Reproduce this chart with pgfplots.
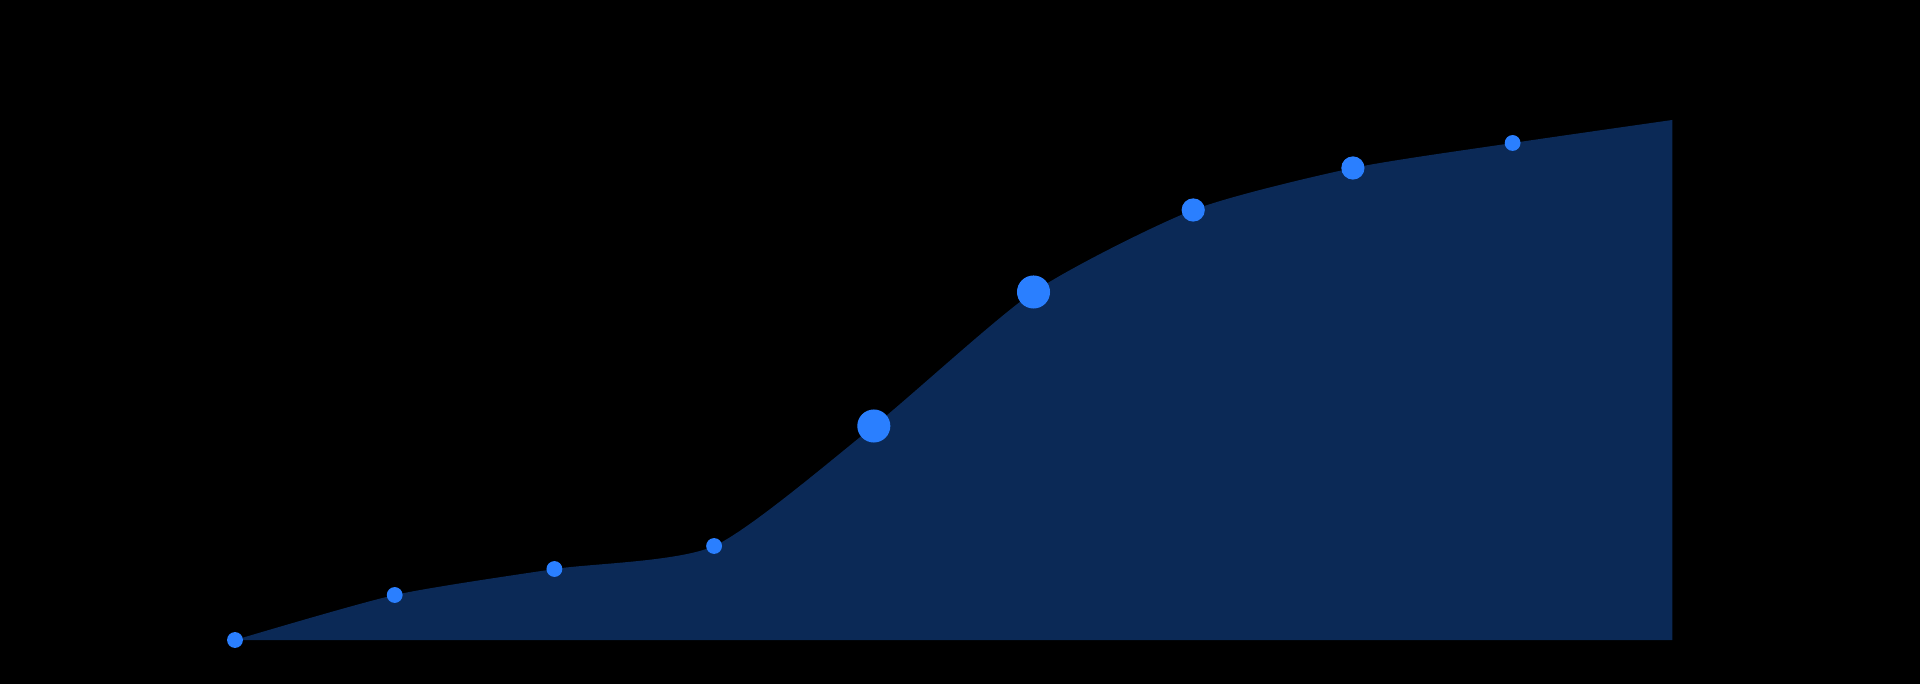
\documentclass[border=0pt]{standalone}
\usepackage{pgfplots}
\pgfplotsset{compat=1.18}
\definecolor{areafill}{HTML}{0B2956}
\definecolor{markblue}{HTML}{2A7FFF}
\begin{document}
\begin{tikzpicture}
\fill[black] (0,0) rectangle (19.2cm,6.84cm);
\begin{axis}[
  at={(0,0)}, anchor=south west,
  scale only axis, width=19.2cm, height=6.84cm,
  xmin=-1.4715, xmax=10.551,
  ymin=-44, ymax=640,
  hide axis, clip=false,
]
\addplot[draw=none, fill=areafill, smooth, tension=0.4] coordinates {
(0,0) (1,45) (2,71) (3,94) (4,214) (5,348) (6,430) (7,472) (8,497) (9,520)
} \closedcycle;
\addplot[only marks, mark=*, mark size=2.05pt, draw=markblue, fill=markblue]
  coordinates {(0,0) (1,45) (2,71) (3,94) (8,497)};
\addplot[only marks, mark=*, mark size=3.1pt, draw=markblue, fill=markblue]
  coordinates {(6,430) (7,472)};
\addplot[only marks, mark=*, mark size=4.5pt, draw=markblue, fill=markblue]
  coordinates {(4,214) (5,348)};
\end{axis}
\end{tikzpicture}
\end{document}
